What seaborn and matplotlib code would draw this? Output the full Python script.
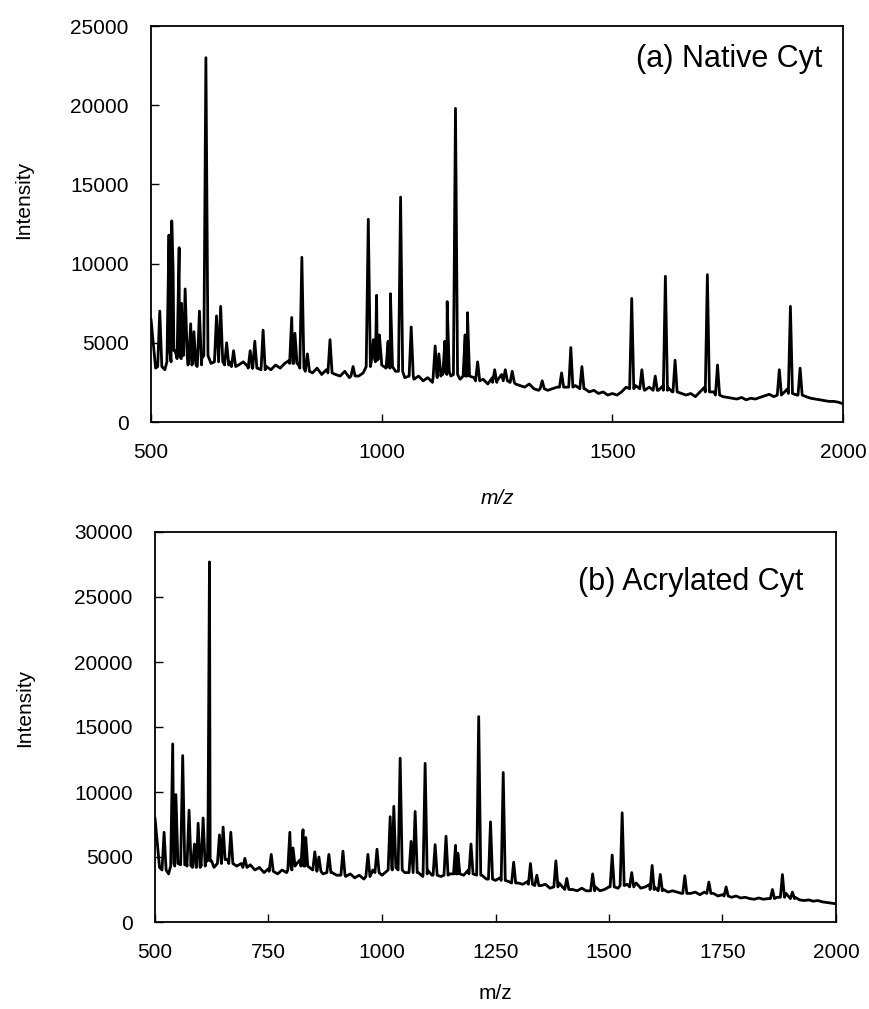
import numpy as np
import pandas as pd
import matplotlib
matplotlib.use("Agg")
import matplotlib.pyplot as plt
import seaborn as sns

# ---------------- data ----------------
# baseline trace samples every 10 m/z from 500 to 2000
base_mz = list(range(500, 2001, 10))

base_a = [6500, 3400, 3900, 3300, 4200, 4600, 4000, 4400, 3600, 4100,
          3500, 4000, 4200, 3700, 4400, 4800, 4100, 3800, 4000, 3600,
          3800, 3500, 3900, 3400, 3700, 3500, 3300, 3600, 3400, 3700,
          3900, 4200, 3600, 3800, 3300, 3100, 3400, 3000, 3300, 3500,
          3000, 2900, 3200, 2800, 3100, 2900, 3100, 3600, 4200, 4500,
          3600, 3300, 3700, 3200, 3400, 2800, 3000, 2700, 2900, 2600,
          2800, 2500, 3000, 3200, 3600, 2900, 3500, 2700, 3000, 2600,
          2800, 2500, 2700, 2400, 2800, 2600, 3000, 2700, 2900, 2400,
          2300, 2200, 2400, 2100, 2000, 2300, 2000, 2100, 2200, 2500,
          2200, 2700, 2300, 2600, 2100, 1900, 2000, 1800, 1900, 1700,
          1800, 1700, 1900, 2200, 2600, 2300, 2400, 2000, 2200, 2500,
          2000, 2300, 2200, 1900, 2200, 1800, 1700, 1800, 1600, 1900,
          2200, 2100, 1900, 2000, 1600, 1550, 1500, 1450, 1550, 1400,
          1500, 1450, 1550, 1650, 1750, 1600, 1900, 1800, 2100, 2000,
          1700, 1900, 1600, 1500, 1450, 1400, 1350, 1300, 1300, 1250,
          1150]

peak_mz_a = [519, 539, 545, 548, 561, 566, 574, 586, 593, 605, 619, 642,
             651, 664, 679, 715, 725, 743, 805, 812, 827, 839, 888, 938,
             971, 982, 989, 995, 1014, 1019, 1041, 1064, 1116, 1124, 1137,
             1142, 1160, 1181, 1186, 1208, 1245, 1268, 1283, 1348, 1390,
             1410, 1434, 1542, 1564, 1593, 1615, 1636, 1706, 1728, 1862,
             1886, 1907]
peak_top_a = [7000, 11800, 12700, 9500, 11000, 7500, 8400, 6200, 5700, 7000,
              23000, 6700, 7300, 5000, 4500, 4500, 5100, 5800, 6600, 5600,
              10400, 4300, 5200, 3500, 12800, 5200, 8000, 5500, 5100, 8100,
              14200, 6000, 4800, 4300, 5100, 7600, 19800, 5500, 6900, 3800,
              3300, 3300, 3200, 2600, 3100, 4700, 3500, 7800, 3300, 2900,
              9200, 3900, 9300, 3600, 3300, 7300, 3400]
peak_foot_a = [3500, 3800, 4500, 4500, 4000, 4200, 4200, 3700, 3600, 3600,
               4200, 3800, 3800, 3600, 3500, 3400, 3400, 3300, 3700, 3700,
               3400, 3200, 3100, 2900, 3500, 3800, 4000, 3900, 3400, 3500,
               3200, 2900, 2800, 2900, 3000, 3200, 3000, 2900, 2900, 2600,
               2500, 2600, 2500, 2100, 2200, 2200, 2100, 2100, 2100, 2000,
               2000, 1900, 1900, 1700, 1700, 1800, 1700]

base_b = [8000, 4200, 4600, 3700, 4800, 5200, 4700, 4400, 4900, 4100,
          4600, 4300, 5000, 4200, 5200, 5800, 4800, 5200, 4300, 4500,
          4200, 4400, 4000, 4200, 3800, 4100, 3900, 3700, 4000, 3800,
          4600, 4400, 4800, 4500, 4200, 3900, 4100, 3700, 4000, 3800,
          3600, 3900, 3500, 3700, 3400, 3600, 3300, 3700, 4000, 4200,
          3600, 3900, 4500, 5000, 4200, 3800, 3700, 4200, 3800, 3500,
          4000, 3600, 3800, 3500, 3900, 3700, 4200, 3800, 3600, 4000,
          3800, 4400, 3600, 3300, 3700, 3200, 3400, 3500, 3100, 3300,
          3000, 2900, 3100, 3500, 3000, 2800, 2900, 2600, 2700, 3000,
          2600, 2700, 2500, 2400, 2600, 2400, 2500, 2700, 2400, 2500,
          2700, 3000, 2600, 3200, 2900, 2800, 3000, 2600, 2700, 2900,
          2700, 2900, 2500, 2300, 2400, 2300, 2200, 2500, 2200, 2300,
          2100, 2300, 2400, 2200, 2000, 2100, 2200, 1900, 2000, 1850,
          1900, 1800, 1750, 1850, 1750, 1800, 2000, 1900, 2300, 2200,
          1800, 1900, 1700, 1650, 1700, 1600, 1650, 1550, 1500, 1450,
          1400]

peak_mz_b = [520, 539, 546, 561, 575, 587, 595, 606, 617, 620, 642, 650,
             667, 698, 756, 797, 804, 826, 832, 852, 861, 883, 914, 969,
             989, 1018, 1026, 1040, 1064, 1073, 1095, 1117, 1141, 1162,
             1167, 1196, 1213, 1239, 1267, 1290, 1327, 1341, 1383, 1407,
             1464, 1507, 1529, 1550, 1595, 1613, 1667, 1720, 1758, 1860,
             1882, 1904]
peak_top_b = [6900, 13700, 9800, 12800, 8600, 6000, 7600, 8000, 8500, 27700,
              6700, 7300, 6900, 4900, 5200, 6900, 5700, 7100, 6500, 5400,
              5000, 5200, 5450, 5200, 5600, 8100, 8900, 12600, 6200, 8500,
              12200, 5950, 6600, 5900, 5300, 6000, 15800, 7700, 11500, 4600,
              4500, 3600, 4700, 3350, 3700, 5150, 8400, 3800, 4350, 3660,
              3560, 3070, 2700, 2500, 3650, 2300]
peak_foot_b = [4000, 4300, 4500, 4400, 4300, 4200, 4200, 4300, 4700, 4700,
               4500, 4800, 4500, 4200, 3900, 4000, 4300, 4300, 4300, 4000,
               3900, 3800, 3600, 3500, 3800, 4000, 4200, 4000, 3800, 3800,
               3700, 3600, 3600, 3700, 3700, 3700, 3600, 3300, 3200, 3000,
               2900, 2800, 2700, 2500, 2400, 2700, 2800, 2700, 2500, 2400,
               2200, 2200, 2000, 1800, 1900, 1800]

# ---------------- style constants ----------------
HALF_WIDTH = 4.5  # m/z half-width of a drawn peak foot


def build_trace(bmz, bint, pmz, ptop, pfoot):
    pts = []
    windows = [(m - HALF_WIDTH, m + HALF_WIDTH) for m in pmz]
    for m, v in zip(bmz, bint):
        if any(lo < m < hi for lo, hi in windows):
            continue
        pts.append((m, v))
    for m, t, f in zip(pmz, ptop, pfoot):
        pts.append((m - HALF_WIDTH, f))
        pts.append((m, t))
        pts.append((m + HALF_WIDTH, f))
    pts.sort(key=lambda p: p[0])
    return pd.DataFrame(pts, columns=["mz", "intensity"])


df_a = build_trace(base_mz, base_a, peak_mz_a, peak_top_a, peak_foot_a)
df_b = build_trace(base_mz, base_b, peak_mz_b, peak_top_b, peak_foot_b)

sns.set_theme(style="ticks")
plt.rcParams["font.family"] = ["Liberation Sans", "DejaVu Sans"]
plt.rcParams["axes.linewidth"] = 1.3
plt.rcParams["axes.edgecolor"] = "black"

fig = plt.figure(figsize=(8.7, 10.09), dpi=100)
ax_a = fig.add_axes([151 / 870, 1 - 422 / 1009, 692 / 870, 396 / 1009])
ax_b = fig.add_axes([155 / 870, 1 - 922 / 1009, 681 / 870, 390 / 1009])

for ax, df in ((ax_a, df_a), (ax_b, df_b)):
    sns.lineplot(data=df, x="mz", y="intensity", ax=ax, color="black",
                 linewidth=2.0, estimator=None, sort=False)
    ax.set_xlim(500, 2000)
    ax.tick_params(direction="in", length=6, width=1.0, labelsize=15,
                   colors="black")
    ax.tick_params(axis="x", pad=15)
    ax.tick_params(axis="y", pad=16)
    for s in ax.spines.values():
        s.set_visible(True)
        s.set_color("black")
    ax.set_ylabel("Intensity", fontsize=15, color="black")

ax_a.set_ylim(0, 25000)
ax_a.set_yticks([0, 5000, 10000, 15000, 20000, 25000])
ax_a.set_xticks([500, 1000, 1500, 2000])
ax_a.set_xlabel("m/z", fontsize=15, style="italic", color="black")
ax_a.xaxis.set_label_coords(0.5, -0.17)
ax_a.yaxis.set_label_coords(-0.17, 0.56)
ax_a.text(0.97, 0.955, "(a) Native Cyt", transform=ax_a.transAxes,
          ha="right", va="top", fontsize=22, color="black")

ax_b.set_ylim(0, 30000)
ax_b.set_yticks([0, 5000, 10000, 15000, 20000, 25000, 30000])
ax_b.set_xticks([500, 750, 1000, 1250, 1500, 1750, 2000])
ax_b.set_xlabel("m/z", fontsize=15, color="black")
ax_b.xaxis.set_label_coords(0.5, -0.16)
ax_b.yaxis.set_label_coords(-0.178, 0.55)
ax_b.text(0.9515, 0.91, "(b) Acrylated Cyt", transform=ax_b.transAxes,
          ha="right", va="top", fontsize=22, color="black")

fig.savefig("out.png", dpi=100)
